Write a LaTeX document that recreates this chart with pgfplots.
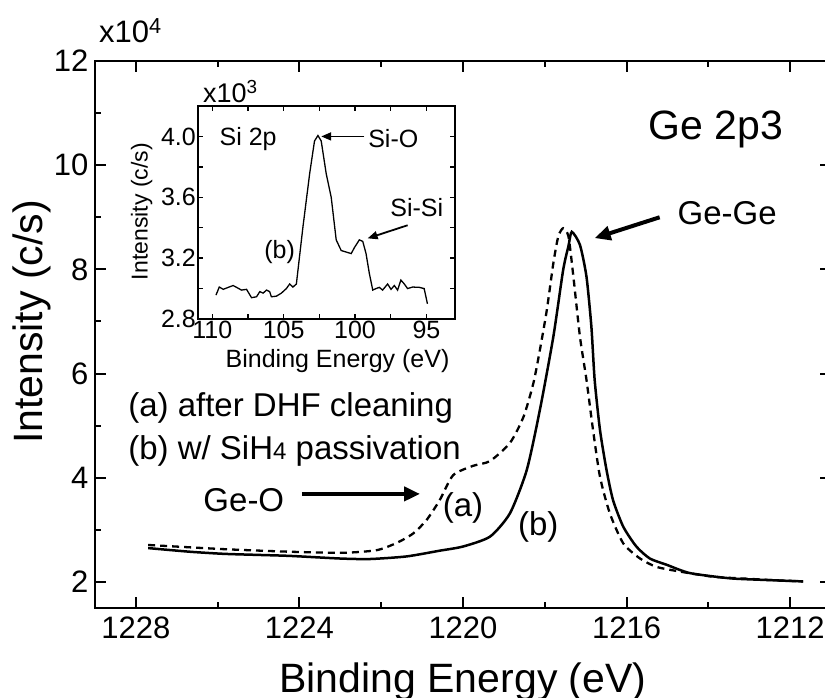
\documentclass[border=0pt]{standalone}
\usepackage{fontspec}
\setmainfont{Liberation Sans}
\usepackage{pgfplots}
\pgfplotsset{compat=1.18}
\usetikzlibrary{arrows.meta}
\newcommand{\fs}[1]{\fontsize{#1bp}{#1bp}\selectfont}

\begin{document}
\begin{tikzpicture}
  % main Ge 2p3 spectrum
  \begin{axis}[
    at={(0,0)}, anchor=south west,
    scale only axis, width=736bp, height=547bp,
    x dir=reverse,
    xmin=1211, xmax=1229, ymin=1.5, ymax=12,
    xtick={1212,1216,1220,1224,1228},
    ytick={2,4,...,12},
    minor x tick num=1, minor y tick num=1,
    major tick length=11bp, minor tick length=6bp,
    tick style={line width=2bp, black},
    axis line style={line width=2.5bp},
    scaled ticks=false,
    tick label style={font=\fs{31}, /pgf/number format/assume math mode=true,
      /pgf/number format/1000 sep={}},
    xticklabel style={yshift=-5bp},
    yticklabel style={xshift=-3bp},
    xlabel={Binding Energy (eV)},
    ylabel={Intensity (c/s)},
    label style={font=\fs{41}},
    xlabel style={at={(axis description cs:0.5,-0.155)}, anchor=base},
    ylabel style={at={(axis description cs:-0.0856,0.523)}, anchor=center},
    clip=false,
  ]
    % (a) after DHF cleaning
    \addplot[black, line width=2.3bp, dash pattern=on 7bp off 5bp, smooth, tension=0.4] coordinates {
      (1227.7,2.71) (1225.86,2.63) (1224.23,2.58) (1222.93,2.56) (1222.11,2.61)
      (1221.62,2.75) (1221.22,2.93) (1220.89,3.19) (1220.57,3.57) (1220.24,4.05)
      (1219.75,4.23) (1219.34,4.32) (1218.85,4.67) (1218.52,5.17) (1218.28,5.81)
      (1218.12,6.45) (1217.95,7.22) (1217.79,8.12) (1217.67,8.63) (1217.55,8.79)
      (1217.42,8.63) (1217.3,7.86) (1217.14,6.71) (1216.98,5.88) (1216.82,4.92)
      (1216.65,4.02) (1216.41,3.32) (1216.08,2.74) (1215.67,2.45) (1215.27,2.29)
      (1214.7,2.20) (1213.88,2.10) (1213.0,2.06) (1212.57,2.04) (1211.68,2.01)
    };
    % (b) w/ SiH4 passivation
    \addplot[black, line width=2.5bp, smooth, tension=0.4] coordinates {
      (1227.7,2.65) (1226.68,2.58) (1225.86,2.54) (1225.05,2.52) (1224.23,2.50)
      (1223.01,2.45) (1222.28,2.44) (1221.38,2.49) (1220.57,2.60) (1220.0,2.68)
      (1219.34,2.87) (1218.85,3.32) (1218.44,4.15) (1218.12,5.30) (1217.79,6.71)
      (1217.55,7.99) (1217.42,8.45) (1217.34,8.72) (1217.14,8.47) (1216.98,7.86)
      (1216.86,6.90) (1216.78,5.88) (1216.65,4.92) (1216.49,4.15) (1216.33,3.57)
      (1216.08,3.06) (1215.76,2.68) (1215.43,2.45) (1215.02,2.33) (1214.45,2.17)
      (1213.47,2.07) (1212.66,2.04) (1211.68,2.01)
    };
    \node[font=\fs{31}, anchor=base west, inner sep=0] at (axis description cs:0.0054,1.033) {x10\textsuperscript{4}};
    \node[font=\fs{41}, inner sep=0] at (axis cs:1213.82,10.68) {Ge 2p3};
    \node[font=\fs{33}, inner sep=0] at (axis cs:1213.54,9.08) {Ge-Ge};
    \draw[line width=4bp, -{Triangle[length=16bp,width=14bp]}] (axis cs:1215.19,9.0) -- (axis cs:1216.78,8.6);
    \node[font=\fs{33}, anchor=west, inner sep=0] at (axis cs:1228.19,5.34) {(a) after DHF cleaning};
    \node[font=\fs{33}, anchor=west, inner sep=0] at (axis cs:1228.19,4.51) {(b) w/ SiH{\fs{24}4} passivation};
    \node[font=\fs{33}, inner sep=0] at (axis cs:1225.36,3.57) {Ge-O};
    \draw[line width=4bp, -{Triangle[length=16bp,width=14bp]}] (axis cs:1223.94,3.69) -- (axis cs:1221.05,3.69);
    \node[font=\fs{33}, inner sep=0] at (axis cs:1220.0,3.42) {(a)};
    \node[font=\fs{33}, inner sep=0] at (axis cs:1218.16,3.06) {(b)};
  \end{axis}

  % inset: Si 2p
  \begin{axis}[
    at={(103bp,289bp)}, anchor=south west,
    scale only axis, width=257bp, height=213bp,
    x dir=reverse,
    xmin=93, xmax=111, ymin=2.8, ymax=4.2,
    xtick={95,100,105,110},
    ytick={2.8,3.2,3.6,4.0},
    minor x tick num=1, minor y tick num=1,
    major tick length=5bp, minor tick length=5bp,
    tick style={line width=1.5bp, black},
    axis line style={line width=1.8bp},
    scaled ticks=false,
    tick label style={font=\fs{25}, /pgf/number format/assume math mode=true, inner sep=2bp},
    yticklabel style={/pgf/number format/fixed, /pgf/number format/fixed zerofill,
      /pgf/number format/precision=1},
    xlabel={Binding Energy (eV)},
    ylabel={Intensity (c/s)},
    xlabel style={font=\fs{25}, at={(axis description cs:0.543,-0.23)}, anchor=base},
    ylabel style={font=\fs{23}, at={(axis description cs:-0.219,0.504)}, anchor=center},
    clip=false,
  ]
    \addplot[black, line width=1.3bp] coordinates {
      (109.74,2.957) (109.51,3.01) (109.23,2.995) (108.88,3.008) (108.54,3.02)
      (108.3,3.008) (107.95,2.99) (107.6,2.995) (107.25,2.94) (106.9,2.946)
      (106.67,2.98) (106.44,2.97) (106.2,2.99) (105.98,2.98) (105.86,2.946)
      (105.51,2.95) (105.16,2.97) (104.81,3.0) (104.58,3.03) (104.35,3.01)
      (104.11,3.03) (103.65,3.405) (103.18,3.755) (102.84,3.97) (102.6,4.006)
      (102.37,3.97) (102.02,3.755) (101.67,3.6) (101.32,3.32) (100.97,3.25)
      (100.62,3.24) (100.27,3.23) (100.04,3.27) (99.7,3.32) (99.46,3.31)
      (99.23,3.23) (99.0,3.1) (98.76,2.99) (98.53,3.0) (98.3,3.008)
      (98.07,2.99) (97.72,3.03) (97.48,2.995) (97.25,3.02) (97.02,2.99)
      (96.79,3.056) (96.55,3.03) (96.32,3.0) (95.97,3.01) (95.5,3.008)
      (95.16,3.0) (94.93,2.9)
    };
    \node[font=\fs{27}, anchor=base west, inner sep=0] at (axis description cs:0.019,1.0155) {x10\textsuperscript{3}};
    \node[font=\fs{25}, inner sep=0] at (axis cs:107.49,3.985) {Si 2p};
    \node[font=\fs{25}, inner sep=0] at (axis cs:97.32,3.987) {Si-O};
    \draw[line width=1.8bp, -{Triangle[length=10bp,width=8bp]}] (axis cs:99.35,4.0) -- (axis cs:102.37,4.0);
    \node[font=\fs{25}, inner sep=0] at (axis cs:95.68,3.53) {Si-Si};
    \draw[line width=1.8bp, -{Triangle[length=10bp,width=8bp]}] (axis cs:96.32,3.416) -- (axis cs:99.12,3.33);
    \node[font=\fs{25}, inner sep=0] at (axis cs:105.28,3.24) {(b)};
  \end{axis}

  \pgfresetboundingbox
  \path[use as bounding box] (-95bp,-90bp) rectangle (730bp,608bp);
\end{tikzpicture}
\end{document}
